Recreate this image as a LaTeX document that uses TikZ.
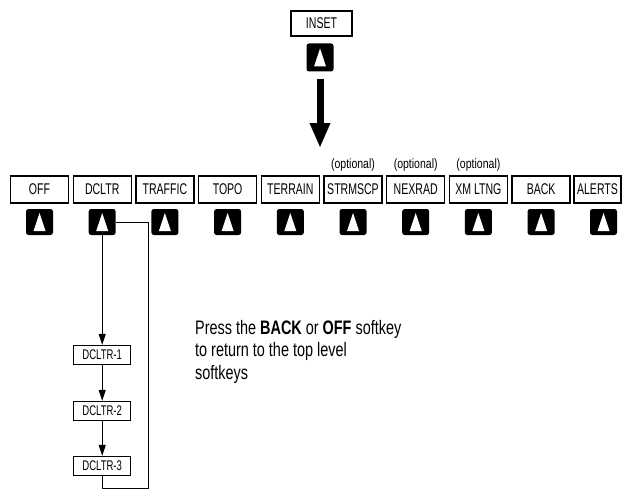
\documentclass[tikz,border=0pt]{standalone}
\usepackage{fontspec}
\setmainfont{Liberation Sans}
\newfontfamily\labfont{Liberation Sans}[FakeStretch=0.68]
\newfontfamily\optfont{Liberation Sans}[FakeStretch=0.78]
\newfontfamily\txtfont{Liberation Sans}[FakeStretch=0.74]
\usetikzlibrary{arrows.meta}
\tikzset{
  softbox/.style={draw, line width=1.4pt, minimum width=58pt, minimum height=27pt, inner sep=0pt,
    font=\labfont\fontsize{15.5}{15.5}\selectfont},
  subbox/.style={draw, line width=1.4pt, minimum width=57pt, minimum height=19pt, inner sep=0pt,
    font=\labfont\fontsize{14}{14}\selectfont},
  keybtn/.style={fill=black, rounded corners=2.5pt, minimum width=27pt, minimum height=26pt, inner sep=0pt,
    path picture={\fill[white, sharp corners] ([xshift=-6pt,yshift=-9pt]path picture bounding box.center)
      -- ([xshift=6pt,yshift=-9pt]path picture bounding box.center)
      -- ([yshift=9pt]path picture bounding box.center) -- cycle;}},
  optlabel/.style={inner sep=0pt, anchor=base, font=\optfont\fontsize{13.5}{13.5}\selectfont},
  flow/.style={line width=0.8pt, -{Triangle[width=7pt,length=11pt]}},
  retline/.style={line width=0.8pt},
  bigarrow/.style={line width=7pt, -{Triangle[width=19pt,length=25pt]}}
}
\begin{document}
\begin{tikzpicture}[x=1pt,y=-1pt]
\useasboundingbox (0,0) rectangle (623,500);
% inset
\node[softbox, minimum width=61pt, minimum height=25pt] (inset) at (321.5,23.5) {INSET};
\node[keybtn, minimum height=28pt] (insetkey) at (320,57.5) {};
\coordinate (insettip) at (320,148);
\draw[bigarrow, shorten <=7pt] (insetkey.south) -- (insettip);
% top level
\foreach \n/\t [count=\i from 0] in {off/OFF,dcltr/DCLTR,traffic/TRAFFIC,topo/TOPO,terrain/TERRAIN,strmscp/STRMSCP,nexrad/NEXRAD,xmltng/XM LTNG,back/BACK}{
  \node[softbox] (\n) at ({39.5+62.7*\i},189.5) {\t};
  \node[keybtn] (\n-key) at ({39.5+62.7*\i},222) {};
}
\node[softbox, minimum width=47pt] (alerts) at (597.5,189.5) {ALERTS};
\node[keybtn] (alerts-key) at (603.5,222) {};
\node[optlabel] (opt1) at (353,168) {(optional)};
\node[optlabel] (opt2) at (415.7,168) {(optional)};
\node[optlabel] (opt3) at (478.4,168) {(optional)};
% dcltr sub
\node[subbox] (d1) at (102.2,355) {DCLTR-1};
\node[subbox] (d2) at (102.2,411) {DCLTR-2};
\node[subbox] (d3) at (102.2,466) {DCLTR-3};
\draw[flow] (dcltr-key.south) -- (d1.north);
\draw[flow] (d1.south) -- (d2.north);
\draw[flow] (d2.south) -- (d3.north);
\draw[retline] (d3.south) -- ++(0,12.5) -| ([xshift=32.5pt]dcltr-key.east) -- (dcltr-key.east);
% text
\node[inner sep=0pt, anchor=north west, align=left, font=\txtfont\fontsize{19.5}{22.5}\selectfont] (note) at (195,320)
  {Press the \textbf{BACK} or \textbf{OFF} softkey\\to return to the top level\\softkeys};
\end{tikzpicture}
\end{document}
